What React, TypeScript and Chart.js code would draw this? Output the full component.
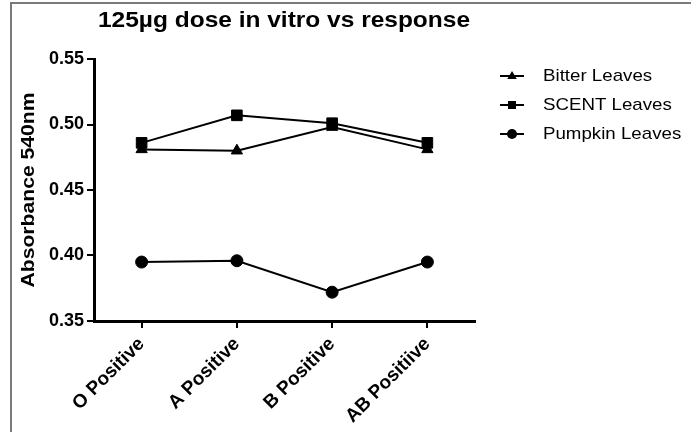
import React, { useEffect, useRef } from "react";
import { Chart, registerables } from "chart.js";

Chart.register(...registerables);

const categories = ["O Positive", "A Positive", "B Positive", "AB Positiive"];
const bitterLeaves = [0.481, 0.48, 0.498, 0.481];
const scentLeaves = [0.486, 0.507, 0.501, 0.486];
const pumpkinLeaves = [0.395, 0.396, 0.372, 0.395];
const seriesNames = ["Bitter Leaves", "SCENT Leaves", "Pumpkin Leaves"];
const titleText = "125µg dose in vitro vs response";
const yTitle = "Absorbance 540nm";

const FONT = "'Liberation Sans', Arial, sans-serif";

function marker(ctx: CanvasRenderingContext2D, style: string, x: number, y: number, r: number) {
  ctx.beginPath();
  if (style === "triangle") {
    ctx.moveTo(x, y - r);
    ctx.lineTo(x + r * 0.95, y + r * 0.6);
    ctx.lineTo(x - r * 0.95, y + r * 0.6);
    ctx.closePath();
  } else if (style === "rect") {
    ctx.rect(x - r * 0.8, y - r * 0.8, r * 1.6, r * 1.6);
  } else {
    ctx.arc(x, y, r, 0, Math.PI * 2);
  }
  ctx.fill();
}

function stretchedText(ctx: CanvasRenderingContext2D, text: string, x: number, y: number, sx: number, align: "left" | "center") {
  ctx.save();
  ctx.translate(x, y);
  ctx.scale(sx, 1);
  ctx.textAlign = align;
  ctx.fillText(text, 0, 0);
  ctx.restore();
}

const framePlugin = {
  id: "frame",
  afterDraw(chart: any) {
    const ctx = chart.ctx as CanvasRenderingContext2D;
    ctx.save();
    ctx.strokeStyle = "#7a7a7a";
    ctx.lineWidth = 2;
    ctx.beginPath();
    ctx.moveTo(11, chart.height);
    ctx.lineTo(11, 3);
    ctx.lineTo(chart.width, 3);
    ctx.stroke();

    ctx.fillStyle = "#000";
    ctx.textBaseline = "middle";
    ctx.font = `bold 22px ${FONT}`;
    let w = ctx.measureText(titleText).width;
    stretchedText(ctx, titleText, 98, 21, 372 / w, "left");

    ctx.font = `bold 18px ${FONT}`;
    w = ctx.measureText(yTitle).width;
    ctx.save();
    ctx.translate(29, 190);
    ctx.rotate(-Math.PI / 2);
    stretchedText(ctx, yTitle, 0, 0, 195 / w, "center");
    ctx.restore();

    ctx.font = `17px ${FONT}`;
    chart.data.datasets.forEach((ds: any, i: number) => {
      const y = 76 + i * 29;
      ctx.strokeStyle = "#000";
      ctx.lineWidth = 2;
      ctx.beginPath();
      ctx.moveTo(500, y);
      ctx.lineTo(524, y);
      ctx.stroke();
      ctx.fillStyle = "#000";
      marker(ctx, ds.pointStyle, 512, y, 5);
      stretchedText(ctx, ds.label, 543, y, 1.1, "left");
    });
    ctx.restore();
  },
};

export default function App() {
  const ref = useRef<HTMLCanvasElement>(null);
  useEffect(() => {
    document.body.style.margin = "0";
    const mk = (label: string, data: number[], style: string, r: number) => ({
      label,
      data,
      borderColor: "#000",
      backgroundColor: "#000",
      borderWidth: 2,
      pointStyle: style,
      pointRadius: r,
      pointBorderWidth: 1,
      pointBackgroundColor: "#000",
      pointBorderColor: "#000",
      tension: 0,
    });
    const chart = new Chart(ref.current!, {
      type: "line",
      data: {
        labels: categories,
        datasets: [
          mk(seriesNames[0], bitterLeaves, "triangle", 6.5),
          mk(seriesNames[1], scentLeaves, "rect", 7.5),
          mk(seriesNames[2], pumpkinLeaves, "circle", 6),
        ],
      },
      options: {
        animation: false,
        responsive: false,
        layout: { padding: { top: 59, right: 216, left: 0, bottom: 0 } },
        plugins: { legend: { display: false }, title: { display: false }, tooltip: { enabled: false } },
        scales: {
          x: {
            offset: true,
            grid: { offset: false, drawOnChartArea: false, drawTicks: true, tickLength: 7, color: "#000", lineWidth: 2 },
            border: { color: "#000", width: 3 },
            ticks: {
              color: "#000",
              font: { family: FONT, size: 19, weight: "bold" },
              maxRotation: 45,
              minRotation: 45,
              padding: 5,
            },
            afterFit(scale: any) {
              scale.height = 111;
            },
          },
          y: {
            min: 0.35,
            max: 0.55,
            grid: { drawOnChartArea: false, drawTicks: true, tickLength: 7, color: "#000", lineWidth: 2 },
            border: { color: "#000", width: 3 },
            ticks: {
              stepSize: 0.05,
              color: "#000",
              font: { family: FONT, size: 18, weight: "bold" },
              padding: 3,
              callback: (v: any) => Number(v).toFixed(2),
            },
            afterFit(scale: any) {
              scale.width = 94;
            },
          },
        },
      },
      plugins: [framePlugin],
    });
    return () => chart.destroy();
  }, []);
  return (
    <div style={{ width: 691, height: 432, background: "#fff" }}>
      <canvas ref={ref} width={691} height={432} style={{ width: 691, height: 432 }} />
    </div>
  );
}
